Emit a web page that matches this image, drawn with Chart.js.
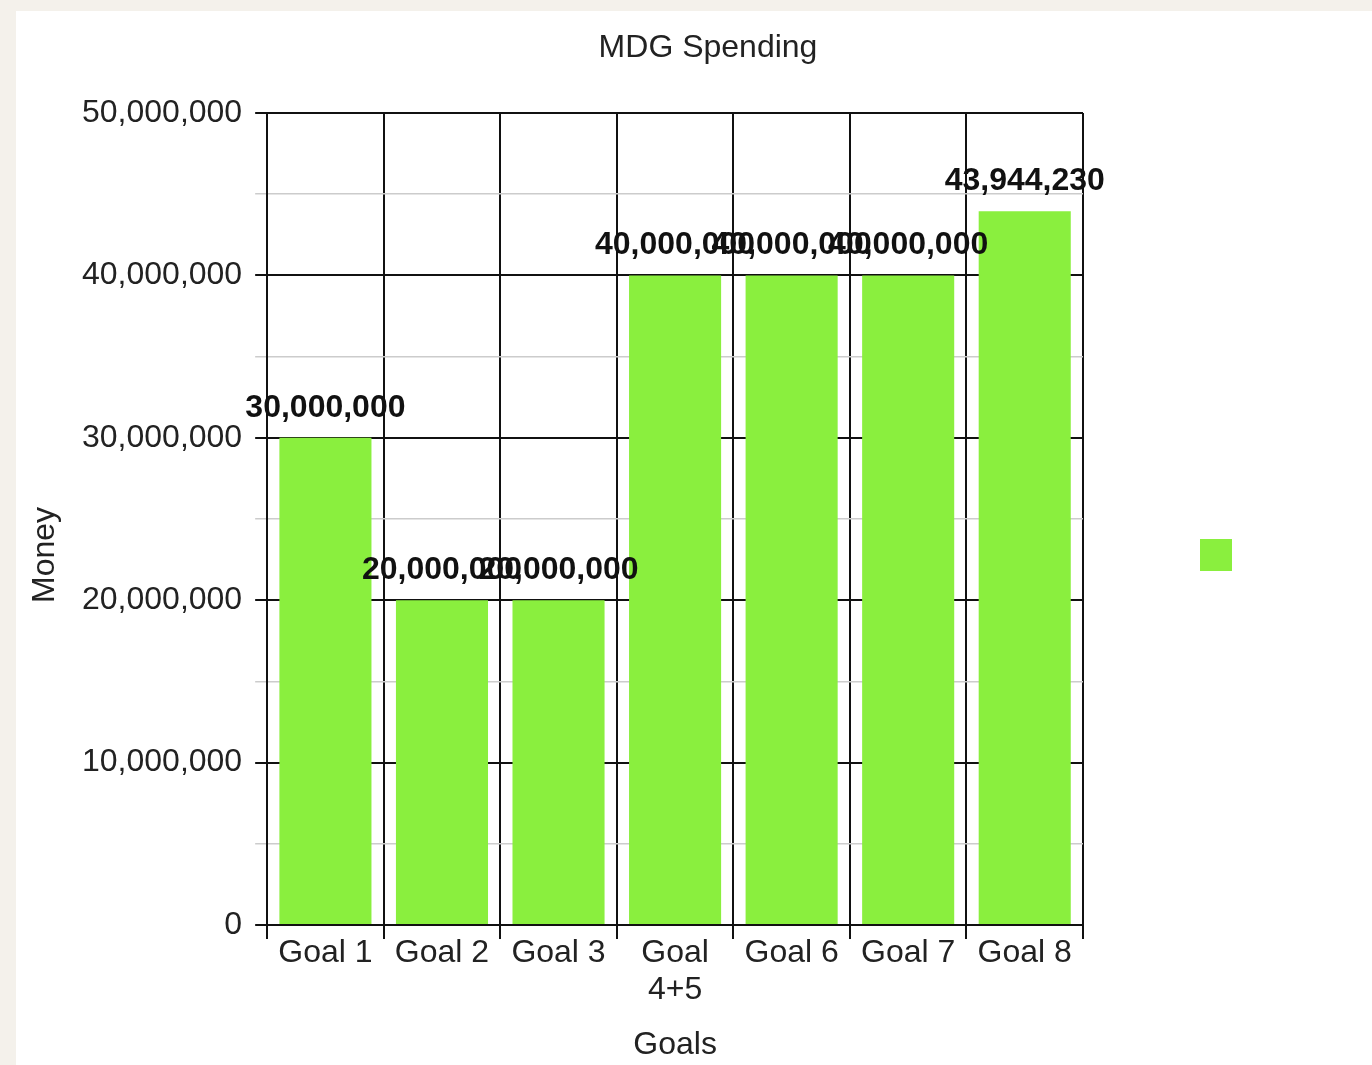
<!DOCTYPE html>
<html>
<head>
<meta charset="utf-8">
<title>MDG Spending</title>
<script src="https://cdn.jsdelivr.net/npm/chart.js@4.4.1/dist/chart.umd.min.js"></script>
<style>
    html, body {
        margin: 0;
        padding: 0;
        overflow: hidden;
        background: #f4f1eb;
        width: 1372px;
        height: 1065px;
    }
    #panel {
        position: absolute;
        left: 16px;
        top: 11px;
        width: 1384px;
        height: 1088px;
        background: #ffffff;
    }
</style>
</head>
<body>
<div id="panel">
    <canvas id="myChart" width="1384" height="1088"></canvas>
</div>
<script>
const labels = [
    'Goal 1',
    'Goal 2',
    'Goal 3',
    ['Goal', '4+5'],
    'Goal 6',
    'Goal 7',
    'Goal 8',
];

const spending = [30000000, 20000000, 20000000, 40000000, 40000000, 40000000, 43944230];

const yTicks = [0, 10000000, 20000000, 30000000, 40000000, 50000000];

const green = '#8aef3e';
const textColor = '#222222';
const fontFamily = "'Liberation Sans', Arial, sans-serif";

Chart.defaults.font.family = fontFamily;
Chart.defaults.font.size = 32;
Chart.defaults.color = textColor;

const isMajor = (value) => yTicks.includes(value);

// numbers printed above each bar
const barValues = {
    id: 'barValues',
    afterDatasetsDraw(chart) {
        const ctx = chart.ctx;
        const meta = chart.getDatasetMeta(0);
        ctx.save();
        ctx.font = 'bold 32px ' + fontFamily;
        ctx.fillStyle = '#111111';
        ctx.textAlign = 'center';
        ctx.textBaseline = 'middle';
        meta.data.forEach((bar, i) => {
            const value = chart.data.datasets[0].data[i];
            ctx.fillText(value.toLocaleString('en-US'), bar.x, bar.y - 30);
        });
        ctx.restore();
    }
};

const data = {
    labels: labels,
    datasets: [{
        label: '',
        data: spending,
        backgroundColor: green,
        borderWidth: 0,
        barPercentage: 0.79,
        categoryPercentage: 1,
    }]
};

const config = {
    type: 'bar',
    data: data,
    plugins: [barValues],
    options: {
        responsive: false,
        animation: false,
        devicePixelRatio: 1,
        layout: {
            padding: 0
        },
        scales: {
            x: {
                grid: {
                    color: '#111111',
                    lineWidth: 2,
                    tickLength: 14,
                    tickColor: '#111111',
                },
                border: {
                    color: '#111111',
                    width: 2,
                },
                ticks: {
                    padding: -4,
                    font: { size: 32, lineHeight: 1.15 },
                    color: textColor,
                    maxRotation: 0,
                    autoSkip: false,
                },
                title: {
                    display: true,
                    text: 'Goals',
                    font: { size: 32, lineHeight: 1.2 },
                    padding: { top: 21, bottom: 35 },
                    color: textColor,
                }
            },
            y: {
                min: 0,
                max: 50000000,
                grid: {
                    color: (ctx) => ctx.tick && isMajor(ctx.tick.value) ? '#111111' : '#cccccc',
                    lineWidth: (ctx) => ctx.tick && isMajor(ctx.tick.value) ? 2 : 1.5,
                    tickColor: (ctx) => ctx.tick && isMajor(ctx.tick.value) ? '#111111' : '#cccccc',
                    tickLength: 12,
                },
                border: {
                    color: '#111111',
                    width: 2,
                },
                ticks: {
                    stepSize: 5000000,
                    padding: 13,
                    color: textColor,
                    font: { size: 32 },
                    callback: (value) => isMajor(value) ? value.toLocaleString('en-US') : '',
                }
            }
        },
        plugins: {
            title: {
                display: true,
                text: 'MDG Spending',
                color: textColor,
                font: { size: 32, weight: 'normal', lineHeight: 1.2 },
                padding: { top: 18, bottom: 45.6 },
            },
            subtitle: {
                display: true,
                position: 'left',
                text: 'Money',
                color: textColor,
                font: { size: 32, weight: 'normal', lineHeight: 1.2 },
                padding: { top: 10, bottom: 4.6 },
            },
            legend: {
                display: true,
                position: 'right',
                maxWidth: 400,
                labels: {
                    boxWidth: 32,
                    boxHeight: 32,
                    padding: 117,
                    // large font only widens the empty label area to push the swatch left
                    font: { size: 316 },
                }
            },
            tooltip: {
                enabled: false
            }
        }
    },
};

const myChart = new Chart(
    document.getElementById('myChart'),
    config
);
</script>
</body>
</html>
